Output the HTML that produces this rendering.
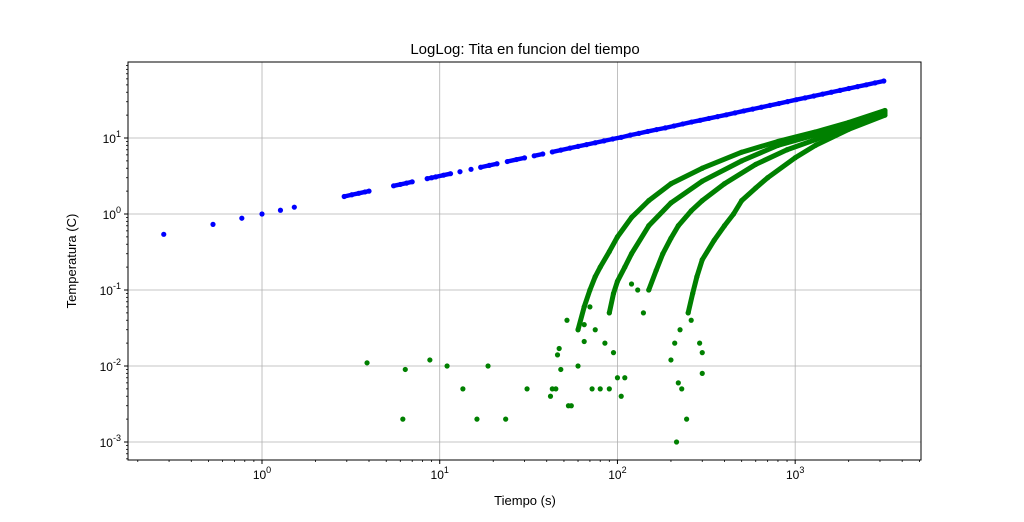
<!DOCTYPE html>
<html><head><meta charset="utf-8"><style>
body{margin:0;background:#fff;}
svg{font-family:"Liberation Sans","DejaVu Sans",sans-serif;}
</style></head><body>
<svg id="chart" width="1024" height="517" xmlns="http://www.w3.org/2000/svg">
<rect width="1024" height="517" fill="#fff"/>
<text x="525" y="54" font-size="15" text-anchor="middle">LogLog: Tita en funcion del tiempo</text>
<text x="525" y="505" font-size="13" text-anchor="middle">Tiempo (s)</text>
<text transform="translate(76,261) rotate(-90)" font-size="13" text-anchor="middle">Temperatura (C)</text>
<g id="grid"></g><g id="marks"></g><g id="axes"></g>
</svg>
<script>
const blueT=[0.28,0.53,0.77,1.0,1.27,1.52,2.9,3.2,3.5,3.8,4.0,5.5,6.0,6.5,7.0,8.5,9.0,9.5,10.5,11.5,13,15,17,19,21,24,27,30,34,38,43,48,54,60,67,75,84,94,105,118,132,148,166,186,208,233,261,292,327,366,410,459,514,576,645,722,809,906,1015,1137,1273,1426,1597,1789,2004,2244,2514,2815,3153];
const blueV=[0.54,0.73,0.88,1.0,1.12,1.23,1.7,1.79,1.87,1.95,2.0,2.35,2.45,2.55,2.65,2.92,3.0,3.08,3.24,3.39,3.6,3.87,4.12,4.36,4.58,4.9,5.2,5.48,5.83,6.16,6.56,6.93,7.35,7.75,8.18,8.66,9.17,9.7,10.2,10.9,11.5,12.2,12.9,13.6,14.4,15.3,16.2,17.1,18.1,19.1,20.2,21.4,22.7,24.0,25.4,26.9,28.4,30.1,31.9,33.7,35.7,37.8,40.0,42.3,44.8,47.4,50.1,53.1,56.2];
const greenA_T=[60,65,70,75,80,90,100,120,150,200,300,500,800,1300,2000,3200];
const greenA_V=[0.03,0.06,0.1,0.15,0.2,0.32,0.5,0.9,1.5,2.5,4,6.5,9,12,16,23];
const greenB_T=[90,95,100,110,120,150,200,300,500,800,1300,2000,3200];
const greenB_V=[0.05,0.09,0.13,0.2,0.3,0.7,1.4,2.7,5,8,11,15,22];
const greenC_T=[150,165,180,200,220,260,300,400,600,900,1300,2000,3200];
const greenC_V=[0.1,0.18,0.3,0.48,0.7,1.1,1.5,2.5,4.5,7,9.5,14,21];
const greenD_T=[250,265,280,300,350,400,450,500,600,700,1000,1300,2000,3200];
const greenD_V=[0.05,0.09,0.15,0.25,0.45,0.7,1.0,1.5,2.2,3,5.5,8,13,20];
const noiseT=[3.9,6.2,6.4,8.8,11,13.5,16.2,18.7,23.5,31,42,43,45,48,46,47,52,53,55,60,65,72,80,90,100,105,110,215,245,220,230,200,210,225,260,290,300,75,85,95,120,130,140,65,70,300];
const noiseV=[0.011,0.002,0.009,0.012,0.01,0.005,0.002,0.01,0.002,0.005,0.004,0.005,0.005,0.009,0.014,0.017,0.04,0.003,0.003,0.01,0.021,0.005,0.005,0.005,0.007,0.004,0.007,0.001,0.002,0.006,0.005,0.012,0.02,0.03,0.04,0.02,0.008,0.03,0.02,0.015,0.12,0.1,0.05,0.035,0.06,0.015];
const xTickLabels=["0","1","2","3"];
const yTickLabels=["-3","-2","-1","0","1"];
const NS="http://www.w3.org/2000/svg";
const L=128,R=921,T=62,B=460;
const xmin=-0.754,xmax=3.708,ymin=-3.237,ymax=2.0;
function xs(v){return L+(Math.log10(v)-xmin)/(xmax-xmin)*(R-L);}
function ys(v){return B-(Math.log10(v)-ymin)/(ymax-ymin)*(B-T);}
function mk(tag,attrs,parent){const e=document.createElementNS(NS,tag);for(const k in attrs)e.setAttribute(k,attrs[k]);parent.appendChild(e);return e;}
const grid=document.getElementById('grid'),marks=document.getElementById('marks'),axes=document.getElementById('axes');
mk('rect',{x:L,y:T,width:R-L,height:B-T,fill:'none',stroke:'#000','stroke-width':1},axes);
xTickLabels.forEach(s=>{const p=+s;const x=xs(Math.pow(10,p));
 const g=mk('line',{x1:x,x2:x,y1:T,y2:B,stroke:'#b0b0b0','stroke-width':0.8},grid);
 
 mk('line',{x1:x,x2:x,y1:B,y2:B+4,stroke:'#000'},axes);
 const t=mk('text',{x:x,y:B+19,'font-size':12,'text-anchor':'middle'},axes);
 
 t.textContent='10';const sp=mk('tspan',{dy:-6,'font-size':9},t);sp.textContent=s;});
for(let d=-1;d<=3;d++)for(let m=2;m<=9;m++){const v=m*Math.pow(10,d);const x=xs(v);if(x<L||x>R)continue;mk('line',{x1:x,x2:x,y1:B,y2:B+2,stroke:'#000','stroke-width':0.8},axes);}
yTickLabels.forEach(s=>{const p=+s;const y=ys(Math.pow(10,p));
 const g=mk('line',{x1:L,x2:R,y1:y,y2:y,stroke:'#b0b0b0','stroke-width':0.8},grid);
 
 mk('line',{x1:L-4,x2:L,y1:y,y2:y,stroke:'#000'},axes);
 const t=mk('text',{x:L-7,y:y+5,'font-size':12,'text-anchor':'end'},axes);
 
 const sp0=mk('tspan',{},t);sp0.textContent='10';const sp=mk('tspan',{dy:-6,'font-size':9},t);sp.textContent=s;});
for(let d=-4;d<=1;d++)for(let m=2;m<=9;m++){const v=m*Math.pow(10,d);const y=ys(v);if(y<T||y>B)continue;mk('line',{x1:L-2,x2:L,y1:y,y2:y,stroke:'#000','stroke-width':0.8},axes);}
function series(tv,vv,color,name,join,w){
 if(join){let pts=[];for(let i=0;i<tv.length;i++){const x=xs(tv[i]),y=ys(vv[i]);if(pts.length){const [px,py]=pts[pts.length-1];if(Math.hypot(x-px,y-py)>(join===true?1e9:join)){drawLine(pts,color,name,w);pts=[];}}pts.push([x,y]);}drawLine(pts,color,name,w);}
 for(let i=0;i<tv.length;i++){const c=mk('circle',{cx:xs(tv[i]),cy:ys(vv[i]),r:2.6,fill:color},marks);
  }
}
function drawLine(pts,color,name,w){if(pts.length<2)return;const p=mk('polyline',{points:pts.map(q=>q.join(',')).join(' '),fill:'none',stroke:color,'stroke-width':w,'stroke-linecap':'round','stroke-linejoin':'round'},marks);
 }
series(blueT,blueV,'#0000ff','blue-series',9.5,4.4);
series(greenA_T,greenA_V,'#008000','green-curve-a',true,5);
series(greenB_T,greenB_V,'#008000','green-curve-b',true,5);
series(greenC_T,greenC_V,'#008000','green-curve-c',true,5);
series(greenD_T,greenD_V,'#008000','green-curve-d',true,5);
series(noiseT,noiseV,'#008000','green-scatter',false,0);
</script>
</body></html>
